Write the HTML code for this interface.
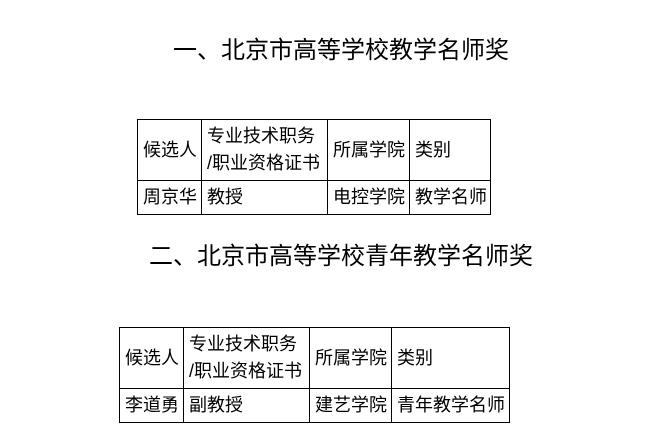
<!DOCTYPE html>
<html><head><meta charset="utf-8"><style>
html,body{margin:0;padding:0;background:#fff;width:655px;height:441px;overflow:hidden}
body{position:relative;font-family:"Liberation Sans","Noto Sans CJK SC",sans-serif;color:#000}
.t{position:absolute;font-size:24px;line-height:24px;white-space:nowrap}
.c{position:absolute;border:1px solid #000;box-sizing:border-box;font-size:18px;line-height:27px;display:flex;align-items:center;padding-left:5px;white-space:nowrap}
</style></head><body>
<div class="t" style="left:173px;top:39px">一、北京市高等学校教学名师奖</div>
<div class="t" style="left:149px;top:245px">二、北京市高等学校青年教学名师奖</div>

<div class="c" style="left:137px;top:119px;width:65px;height:62px">候选人</div>
<div class="c" style="left:201px;top:119px;width:127px;height:62px">专业技术职务<br>/职业资格证书</div>
<div class="c" style="left:327px;top:119px;width:83px;height:62px">所属学院</div>
<div class="c" style="left:409px;top:119px;width:82px;height:62px">类别</div>
<div class="c" style="left:137px;top:180px;width:65px;height:35px">周京华</div>
<div class="c" style="left:201px;top:180px;width:127px;height:35px">教授</div>
<div class="c" style="left:327px;top:180px;width:83px;height:35px">电控学院</div>
<div class="c" style="left:409px;top:180px;width:82px;height:35px">教学名师</div>

<div class="c" style="left:119px;top:327px;width:65px;height:62px">候选人</div>
<div class="c" style="left:183px;top:327px;width:127px;height:62px">专业技术职务<br>/职业资格证书</div>
<div class="c" style="left:309px;top:327px;width:83px;height:62px">所属学院</div>
<div class="c" style="left:391px;top:327px;width:119px;height:62px">类别</div>
<div class="c" style="left:119px;top:388px;width:65px;height:35px">李道勇</div>
<div class="c" style="left:183px;top:388px;width:127px;height:35px">副教授</div>
<div class="c" style="left:309px;top:388px;width:83px;height:35px">建艺学院</div>
<div class="c" style="left:391px;top:388px;width:119px;height:35px">青年教学名师</div>
</body></html>
